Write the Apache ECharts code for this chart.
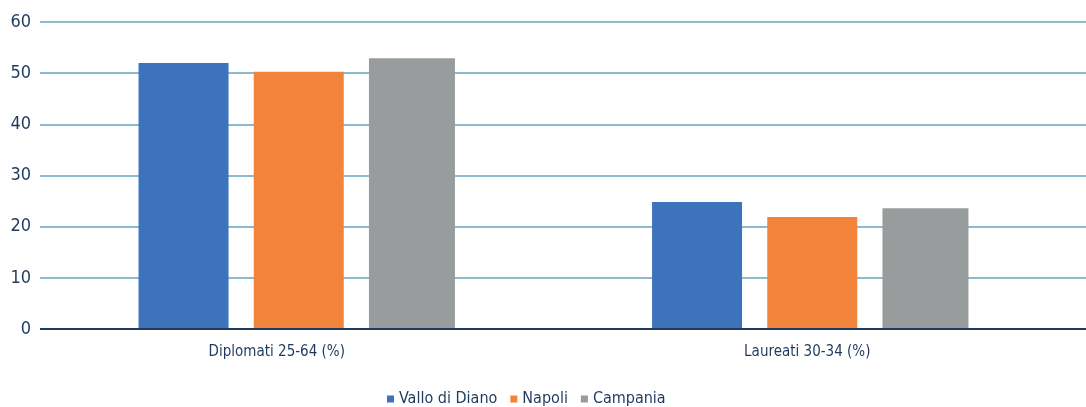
<!DOCTYPE html>
<html>
<head>
<meta charset="utf-8">
<script src="https://cdn.jsdelivr.net/npm/echarts@6/dist/echarts.min.js"></script>
<style>
  html, body { margin: 0; padding: 0; background: #fff; }
  #chart { width: 1086px; height: 407px; }
</style>
</head>
<body>
<div id="chart"></div>
<script>
// Data
const categories = ['Diplomati 25-64 (%)', 'Laureati 30-34 (%)'];
const seriesNames = ['Vallo di Diano', 'Napoli', 'Campania'];
const valloDiDiano = [52.0, 24.8];
const napoli = [50.3, 21.9];
const campania = [52.9, 23.6];
const yTicks = { min: 0, max: 60, interval: 10 };

const colors = ['#3D73BA', '#F2833B', '#999C9C'];
const ink = '#1F3A5F';
const font = '"Liberation Sans Narrow", "DejaVu Sans Condensed", "Roboto", sans-serif';

// the reference labels sit a little left of their bar groups
const labelShift = [40, 6];

const chart = echarts.init(document.getElementById('chart'), null, { renderer: 'canvas' });

chart.setOption({
  animation: false,
  textStyle: { fontFamily: font, color: ink },
  color: colors,
  legend: {
    left: 382,
    top: 386,
    icon: 'rect',
    itemWidth: 7,
    itemHeight: 7,
    itemGap: 13,
    textStyle: { fontSize: 16, color: ink, fontFamily: font },
    data: seriesNames,
  },
  grid: [
    { left: 40, right: 19, top: 22, bottom: 78 },
    { left: 40, right: 0, top: 22, bottom: 78 },
  ],
  xAxis: [
    {
      type: 'category',
      gridIndex: 0,
      data: categories.map((c, i) => ({ value: c, textStyle: { padding: [0, labelShift[i], 0, 0] } })),
      axisTick: { show: false },
      axisLine: { show: false },
      axisLabel: { fontSize: 15, color: ink, margin: 16, fontFamily: font },
    },
    { type: 'value', gridIndex: 1, show: false },
  ],
  yAxis: [
    {
      type: 'value',
      gridIndex: 0,
      min: yTicks.min,
      max: yTicks.max,
      interval: yTicks.interval,
      axisLine: { show: false },
      axisTick: { show: false },
      splitLine: { show: false },
      axisLabel: { fontSize: 18, color: ink, margin: 9, fontFamily: font },
    },
    {
      // full-width gridlines, reaching the right edge like the reference
      type: 'value',
      gridIndex: 1,
      min: yTicks.min,
      max: yTicks.max,
      interval: yTicks.interval,
      axisLabel: { show: false },
      axisTick: { show: false },
      axisLine: { show: false },
      splitLine: { lineStyle: { color: '#66A5C2', width: 1.5 } },
    },
  ],
  series: [
    { name: seriesNames[0], type: 'bar', data: valloDiDiano, barWidth: 90, barGap: '28%', z: 3 },
    { name: seriesNames[1], type: 'bar', data: napoli, barWidth: 90, barGap: '28%', z: 3 },
    { name: seriesNames[2], type: 'bar', data: campania, barWidth: 86, barGap: '28%', z: 3 },
    {
      // dark baseline at zero across the full width
      type: 'line',
      xAxisIndex: 1,
      yAxisIndex: 1,
      data: [],
      markLine: {
        silent: true,
        symbol: 'none',
        label: { show: false },
        lineStyle: { color: '#1F3B5C', width: 2, type: 'solid' },
        data: [{ yAxis: 0 }],
      },
      z: 5,
    },
  ],
});
</script>
</body>
</html>
